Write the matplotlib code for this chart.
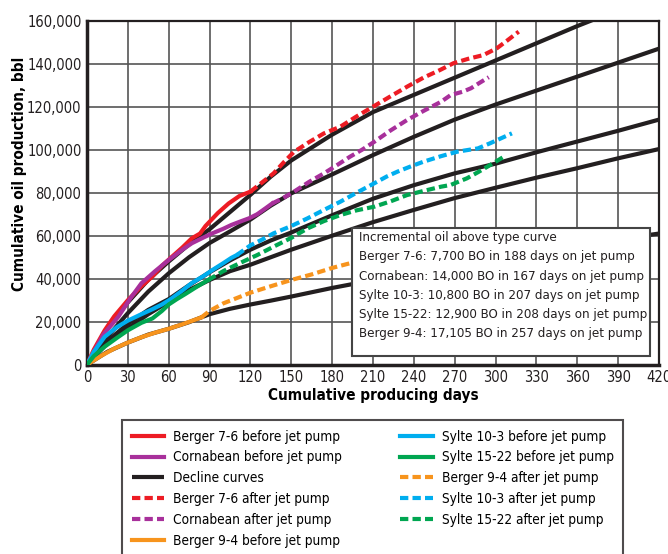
import matplotlib
matplotlib.use("Agg")
import matplotlib.pyplot as plt
from matplotlib.patches import Rectangle
from matplotlib.ticker import FuncFormatter

plt.rcParams['font.family'] = ['DejaVu Sans']
plt.rcParams['font.stretch'] = 'condensed'

# ---- data ----
berger76_before_days = [0, 5, 13, 20, 30, 40, 48, 55, 62, 70, 77, 83, 87, 96, 104, 112, 120]
berger76_before = [0, 7000, 16000, 22500, 30000, 36500, 41000, 46000, 50000, 54500, 58800, 61000, 64500, 70500, 75000, 78500, 80500]
berger76_after_days = [120, 128, 137, 145, 152, 163, 174, 186, 198, 210, 222, 235, 247, 259, 269, 280, 291, 301, 309, 317]
berger76_after = [80500, 84500, 89000, 94500, 99000, 103500, 107600, 110700, 115500, 120000, 124500, 129300, 133500, 137000, 140200, 142300, 144000, 147200, 151000, 154900]

cornabean_before_days = [0, 5, 12, 23, 32, 40, 50, 60, 70, 77, 85, 92, 100, 106, 113, 119, 125, 131, 136]
cornabean_before = [0, 6000, 14000, 22300, 31000, 37900, 43500, 48700, 53500, 56500, 59000, 61100, 63200, 65000, 66700, 68100, 70000, 72700, 75000]
cornabean_after_days = [136, 144, 152, 163, 174, 184, 193, 202, 211, 223, 235, 247, 260, 267, 276, 282, 288, 295]
cornabean_after = [75000, 77500, 80500, 85000, 89000, 93000, 96700, 100000, 103700, 109000, 113800, 118000, 122300, 125400, 127000, 128600, 131000, 133700]

berger94_before_days = [0, 5, 10, 20, 30, 40, 50, 60, 70, 78, 84]
berger94_before = [0, 2000, 4000, 7500, 10300, 12800, 14900, 16700, 18800, 20600, 22000]
berger94_after_days = [84, 90, 100, 110, 120, 135, 150, 165, 180, 195, 210]
berger94_after = [22000, 25000, 28500, 31000, 33500, 36500, 39400, 42000, 45000, 47500, 49500]

sylte103_before_days = [0, 5, 13, 22, 30, 40, 48, 55, 61, 70, 77, 85, 92, 100, 106, 110]
sylte103_before = [0, 6000, 13000, 17500, 20500, 23500, 25800, 28000, 30300, 34500, 38000, 41000, 44000, 47200, 49700, 51000]
sylte103_after_days = [110, 120, 128, 137, 150, 162, 174, 186, 198, 211, 220, 228, 238, 247, 260, 272, 287, 296, 304, 312]
sylte103_after = [51000, 55500, 58000, 61100, 64500, 68100, 72000, 75800, 80000, 84400, 87500, 89800, 92300, 94400, 97000, 99100, 100600, 103000, 105300, 107600]

sylte1522_before_days = [0, 5, 13, 22, 30, 40, 48, 55, 60, 66, 72, 80, 89]
sylte1522_before = [0, 4000, 8400, 12500, 16000, 19500, 21500, 25000, 28000, 30500, 32800, 36000, 39400]
sylte1522_after_days = [89, 100, 112, 125, 137, 150, 162, 174, 186, 198, 211, 223, 235, 247, 260, 267, 279, 287, 294, 306]
sylte1522_after = [39400, 43500, 47200, 51000, 54900, 59000, 63400, 66800, 69600, 71800, 73500, 76000, 78900, 80800, 82800, 83600, 86700, 89500, 92100, 96700]

# decline (type) curves
decline_days = [0, 15, 30, 45, 60, 75, 90, 105, 120, 135, 150, 180, 210, 240, 270, 300, 330, 360, 390, 420]
decline_berger76 = [0, 17000, 29000, 39500, 48000, 56000, 63000, 71000, 79000, 87500, 95000, 107000, 117500, 125500, 133500, 141500, 149500, 157500, 165000, 172000]
decline_cornabean = [0, 13000, 24000, 34000, 42500, 50000, 56600, 62000, 67500, 74000, 79700, 88500, 97500, 106000, 114000, 121000, 127500, 134000, 140500, 147000]
decline_sylte103 = [0, 11000, 19000, 25500, 30500, 37000, 43000, 48500, 53500, 57800, 61500, 69500, 77200, 83500, 89000, 93500, 98800, 103800, 108800, 114000]
decline_sylte1522 = [0, 10000, 16900, 23500, 29300, 34800, 39400, 43500, 46500, 50000, 53500, 60000, 66300, 72000, 77500, 82300, 87000, 91400, 96000, 100300]
decline_berger94 = [0, 6000, 10300, 14000, 16700, 19800, 23500, 26000, 28000, 29800, 31700, 35700, 39300, 43000, 46300, 49500, 52500, 55500, 58300, 61000]

box_lines = [
    "Incremental oil above type curve",
    "Berger 7-6: 7,700 BO in 188 days on jet pump",
    "Cornabean: 14,000 BO in 167 days on jet pump",
    "Sylte 10-3: 10,800 BO in 207 days on jet pump",
    "Sylte 15-22: 12,900 BO in 208 days on jet pump",
    "Berger 9-4: 17,105 BO in 257 days on jet pump",
]

RED = '#ed1c24'
PURPLE = '#a8309b'
BLACK = '#231f20'
ORANGE = '#f7941d'
BLUE = '#00aeef'
GREEN = '#00a651'

fig = plt.figure(figsize=(6.68, 5.54), dpi=100)
ax = fig.add_axes([87 / 668, 1 - 364.7 / 554, 572 / 668, 344 / 554])

lw = 3.0
dash = (0, (2.0, 1.0))

h = {}
for vals in [decline_berger76, decline_cornabean, decline_sylte103, decline_sylte1522, decline_berger94]:
    h['dec'], = ax.plot(decline_days, vals, color=BLACK, lw=lw, zorder=2, solid_capstyle='butt')

h['b76b'], = ax.plot(berger76_before_days, berger76_before, color=RED, lw=lw, zorder=3)
h['cb'], = ax.plot(cornabean_before_days, cornabean_before, color=PURPLE, lw=lw, zorder=3)
h['b94b'], = ax.plot(berger94_before_days, berger94_before, color=ORANGE, lw=lw, zorder=3)
h['s103b'], = ax.plot(sylte103_before_days, sylte103_before, color=BLUE, lw=lw, zorder=3)
h['s1522b'], = ax.plot(sylte1522_before_days, sylte1522_before, color=GREEN, lw=lw, zorder=3)

h['b76a'], = ax.plot(berger76_after_days, berger76_after, color=RED, lw=lw, ls=dash, zorder=4)
h['ca'], = ax.plot(cornabean_after_days, cornabean_after, color=PURPLE, lw=lw, ls=dash, zorder=4)
h['b94a'], = ax.plot(berger94_after_days, berger94_after, color=ORANGE, lw=lw, ls=dash, zorder=4)
h['s103a'], = ax.plot(sylte103_after_days, sylte103_after, color=BLUE, lw=lw, ls=dash, zorder=4)
h['s1522a'], = ax.plot(sylte1522_after_days, sylte1522_after, color=GREEN, lw=lw, ls=dash, zorder=4)

ax.set_xlim(0, 420)
ax.set_ylim(0, 160000)
ax.set_xticks(range(0, 421, 30))
ax.set_yticks(range(0, 160001, 20000))
ax.yaxis.set_major_formatter(FuncFormatter(lambda v, p: f'{int(v):,}'))
ax.tick_params(length=0, labelsize=10.5, pad=4, colors='#231f20')
ax.grid(True, color='#555555', lw=1.2, zorder=1)
ax.set_axisbelow(True)
for s in ax.spines.values():
    s.set_color(BLACK)
    s.set_linewidth(1.6)
ax.spines['left'].set_linewidth(2.5)
ax.spines['bottom'].set_linewidth(2.5)

ax.set_xlabel('Cumulative producing days', fontsize=11, fontweight='bold', labelpad=2)
ax.set_ylabel('Cumulative oil production, bbl', fontsize=11, fontweight='bold')
ax.yaxis.set_label_coords(-0.105, 0.555)

# annotation box
ax.add_patch(Rectangle((0.4633, 0.0253), 0.521, 0.372, transform=ax.transAxes,
                       fc='white', ec='#444444', lw=1.5, zorder=10))
ax.text(0.4755, 0.388, '\n'.join(box_lines), transform=ax.transAxes, fontsize=9.5,
        va='top', ha='left', linespacing=1.62, zorder=11, color='#231f20')

order = ['b76b', 'cb', 'dec', 'b76a', 'ca', 'b94b', 's103b', 's1522b', 'b94a', 's103a', 's1522a']
labels = ['Berger 7-6 before jet pump', 'Cornabean before jet pump', 'Decline curves',
          'Berger 7-6 after jet pump', 'Cornabean after jet pump', 'Berger 9-4 before jet pump',
          'Sylte 10-3 before jet pump', 'Sylte 15-22 before jet pump', 'Berger 9-4 after jet pump',
          'Sylte 10-3 after jet pump', 'Sylte 15-22 after jet pump']
leg = fig.legend([h[k] for k in order], labels, loc='upper left', bbox_to_anchor=(122 / 668, 1 - 420 / 554),
                 ncol=2, fontsize=9.8, frameon=True, fancybox=False, edgecolor=BLACK,
                 handlelength=2.4, handletextpad=0.65, columnspacing=4.3, labelspacing=0.5,
                 borderpad=0.7, borderaxespad=0)
leg.get_frame().set_linewidth(1.5)

fig.savefig('out.png', dpi=100)
